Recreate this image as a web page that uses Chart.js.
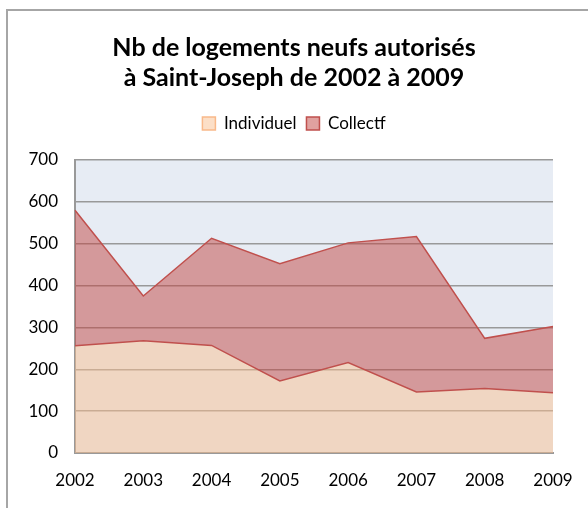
<!DOCTYPE html>
<html>
<head>
<meta charset="utf-8">
<script src="https://cdn.jsdelivr.net/npm/chart.js@4/dist/chart.umd.min.js"></script>
<style>
  html, body { margin: 0; padding: 0; background: #fff; }
  #wrap { position: relative; width: 588px; height: 508px; overflow: hidden; }
  #cadre { position: absolute; left: 6px; top: 9px; width: 640px; height: 600px; border: 2px solid #a6a6a6; }
  #myChart { position: absolute; left: 0; top: 0; }
</style>
</head>
<body>
<div id="wrap">
  <div id="cadre"></div>
  <canvas id="myChart" width="588" height="508"></canvas>
</div>
<script>
//* Donnees
var annees = ["2002", "2003", "2004", "2005", "2006", "2007", "2008", "2009"];
var individuel = [256, 268, 257, 172, 216, 146, 154, 144];
var collectif = [324, 107, 256, 280, 286, 371, 120, 158];
var ticksY = [0, 100, 200, 300, 400, 500, 600, 700];

// fond bleu de la zone de tracé
var fondZone = {
  id: 'fondZone',
  beforeDraw: function (chart) {
    var a = chart.chartArea;
    var c = chart.ctx;
    c.save();
    c.fillStyle = '#e7ecf4';
    c.fillRect(a.left, a.top, a.right - a.left, a.bottom - a.top);
    c.restore();
  }
};

// espace sous la légende
var margeLegende = {
  id: 'margeLegende',
  beforeInit: function (chart) {
    var fitOrig = chart.legend.fit;
    chart.legend.fit = function () {
      fitOrig.bind(chart.legend)();
      this.height += 18;
    };
  }
};

document.addEventListener("DOMContentLoaded", function () {
  var ctx = document.getElementById('myChart').getContext('2d');

  new Chart(ctx, {
    type: 'line',
    data: {
      labels: annees,
      datasets: [{
          label: 'Individuel',
          data: individuel,
          backgroundColor: 'rgba(250, 192, 144, 0.5)',
          borderColor: '#c0504d',
          borderWidth: 1.5,
          fill: 'origin',
          pointRadius: 0,
          tension: 0
      }, {
          label: 'Collectf',
          data: collectif,
          backgroundColor: 'rgba(193, 70, 66, 0.5)',
          borderColor: '#c0504d',
          borderWidth: 1.5,
          fill: '-1',
          pointRadius: 0,
          tension: 0
      }]
    },
    options: {
      responsive: false,
      animation: false,
      layout: { padding: { top: 23, left: 0, right: 0, bottom: 0 } },
      plugins: {
        title: {
          display: true,
          text: ['Nb de logements neufs autorisés', 'à Saint-Joseph de 2002 à 2009'],
          color: '#000',
          font: { family: 'Lato', size: 25, weight: 'bold', lineHeight: 1.2 },
          padding: { top: 10, bottom: 12 }
        },
        legend: {
          labels: {
            color: '#000',
            font: { family: 'Lato', size: 17 },
            boxWidth: 13,
            boxHeight: 13,
            padding: 10,
            generateLabels: function (chart) {
              var items = Chart.defaults.plugins.legend.labels.generateLabels(chart);
              items[0].strokeStyle = '#f9b98a';
              items[0].fillStyle = 'rgba(250, 192, 144, 0.5)';
              return items;
            }
          }
        },
        tooltip: { enabled: false }
      },
      scales: {
        x: {
          grid: { display: false },
          border: { display: true, color: '#999', width: 2 },
          ticks: { color: '#000', font: { family: 'Lato', size: 17 }, padding: 9, maxRotation: 0 },
          afterFit: function (s) { s.height = 55; }
        },
        y: {
          stacked: true,
          min: 0,
          max: 700,
          afterBuildTicks: function (s) { s.ticks = ticksY.map(function (v) { return { value: v }; }); },
          grid: { color: '#999', lineWidth: 1.5, drawTicks: false },
          border: { display: true, color: '#999', width: 2 },
          ticks: { color: '#000', font: { family: 'Lato', size: 17 }, padding: 17 },
          afterFit: function (s) { s.width = 75; }
        },
        // axe vide à droite pour centrer le titre
        droite: {
          type: 'linear',
          position: 'right',
          grid: { display: false },
          border: { display: false },
          ticks: { display: false },
          afterFit: function (s) { s.width = 35; }
        }
      }
    },
    plugins: [fondZone, margeLegende]
  });
});
</script>
</body>
</html>
